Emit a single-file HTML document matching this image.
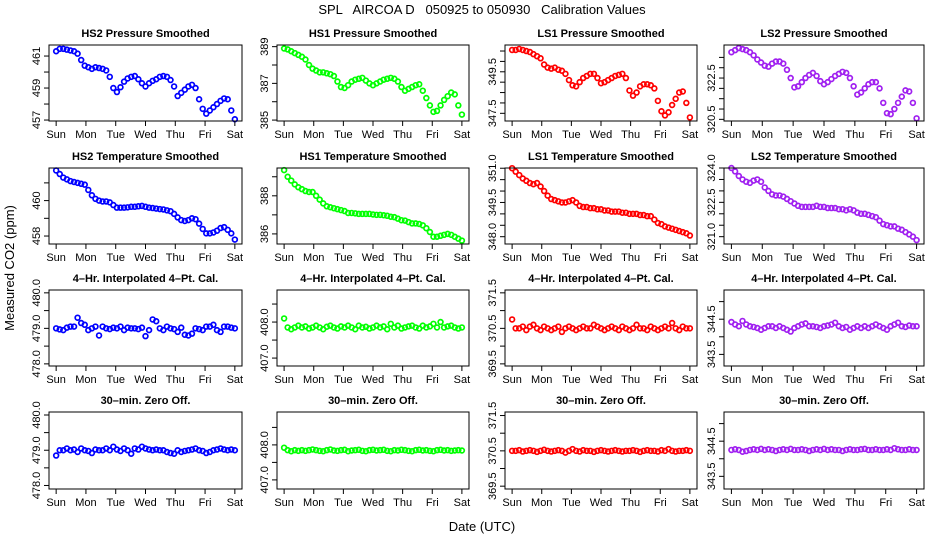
<!DOCTYPE html>
<html><head><meta charset="utf-8"><style>
html,body{margin:0;padding:0;background:#fff;}
svg{display:block;font-family:"Liberation Sans",Arial,sans-serif;}
</style></head><body>
<svg id="chart" width="936" height="540" viewBox="0 0 936 540" xmlns="http://www.w3.org/2000/svg">
<rect x="0" y="0" width="936" height="540" fill="#fff"/>
<text x="482" y="14" font-size="13" text-anchor="middle" xml:space="preserve">SPL   AIRCOA D   050925 to 050930   Calibration Values</text>
<text x="0" y="0" font-size="13" text-anchor="middle" transform="translate(14,268) rotate(-90)">Measured CO2 (ppm)</text>
<text x="482" y="531" font-size="13" text-anchor="middle">Date (UTC)</text>
<g id="panels"></g>
</svg>
<script>
// ---- data (time in days from Sunday 00:00, step 0.12) ----
const days = ["Sun","Mon","Tue","Wed","Thu","Fri","Sat"];
const hs2Pressure = [461.3,461.45,461.45,461.4,461.35,461.3,461.15,460.75,460.4,460.3,460.2,460.3,460.25,460.2,460.1,459.7,459.0,458.75,459.05,459.4,459.6,459.7,459.75,459.55,459.3,459.1,459.3,459.45,459.55,459.7,459.75,459.7,459.5,459.1,458.5,458.7,458.9,459.1,459.2,459.0,458.3,457.7,457.4,457.6,457.8,458.0,458.2,458.35,458.3,457.6,457.05];
const hs1Pressure = [388.9,388.85,388.75,388.65,388.55,388.45,388.3,388.0,387.8,387.7,387.6,387.6,387.55,387.5,387.4,387.1,386.8,386.75,386.9,387.1,387.2,387.25,387.3,387.15,387.0,386.9,387.0,387.1,387.2,387.25,387.3,387.25,387.1,386.8,386.6,386.7,386.8,386.9,386.95,386.6,386.2,385.8,385.45,385.5,385.8,386.1,386.3,386.5,386.4,385.8,385.3];
const ls1Pressure = [350.55,350.55,350.6,350.55,350.5,350.45,350.35,350.25,350.15,349.85,349.7,349.65,349.7,349.6,349.55,349.4,349.1,348.85,348.8,349.0,349.2,349.3,349.4,349.4,349.2,348.95,349.0,349.1,349.2,349.3,349.35,349.4,349.2,348.6,348.35,348.5,348.8,348.9,348.9,348.85,348.7,348.1,347.6,347.4,347.55,347.9,348.2,348.5,348.55,348.0,347.3];
const ls2Pressure = [323.75,323.85,323.95,323.9,323.85,323.75,323.6,323.4,323.25,323.1,323.05,323.2,323.3,323.3,323.2,322.9,322.5,322.05,322.1,322.3,322.5,322.65,322.75,322.6,322.35,322.2,322.3,322.45,322.6,322.7,322.8,322.75,322.5,322.1,321.7,321.8,322.0,322.2,322.3,322.3,322.0,321.3,320.8,320.75,321.0,321.3,321.6,321.9,321.85,321.3,320.55];
const hs2Temp = [461.7,461.5,461.3,461.2,461.1,461.05,461.0,460.95,460.9,460.6,460.3,460.1,460.0,459.95,459.95,459.9,459.75,459.6,459.6,459.6,459.62,459.65,459.65,459.68,459.7,459.65,459.6,459.58,459.55,459.52,459.5,459.45,459.4,459.25,459.05,458.9,458.85,458.9,459.0,458.95,458.7,458.4,458.15,458.15,458.2,458.3,458.45,458.5,458.35,458.15,457.8];
const hs1Temp = [389.35,389.0,388.8,388.6,388.45,388.35,388.25,388.2,388.2,388.0,387.8,387.6,387.45,387.4,387.35,387.3,387.25,387.2,387.1,387.1,387.08,387.05,387.05,387.05,387.05,387.02,387.0,387.0,386.98,386.95,386.9,386.88,386.8,386.72,386.7,386.62,386.55,386.55,386.52,386.45,386.3,386.1,385.85,385.85,385.9,385.95,386.0,385.95,385.85,385.75,385.65];
const ls1Temp = [351.0,350.85,350.7,350.55,350.45,350.35,350.3,350.35,350.2,350.0,349.8,349.65,349.6,349.55,349.5,349.5,349.55,349.6,349.5,349.35,349.3,349.3,349.25,349.25,349.2,349.2,349.15,349.15,349.1,349.1,349.1,349.05,349.05,349.0,349.0,349.0,348.95,348.95,348.9,348.9,348.75,348.6,348.55,348.45,348.4,348.35,348.3,348.25,348.2,348.15,348.05];
const ls2Temp = [324.0,323.85,323.65,323.5,323.4,323.35,323.45,323.5,323.4,323.15,323.0,322.85,322.8,322.8,322.75,322.65,322.55,322.45,322.35,322.3,322.3,322.3,322.3,322.35,322.3,322.3,322.25,322.25,322.25,322.2,322.2,322.15,322.2,322.15,322.05,322.0,322.0,321.95,321.9,321.85,321.7,321.55,321.5,321.45,321.45,321.35,321.3,321.2,321.1,321.0,320.85];
const hs2Interp = [479.0,478.97,478.95,479.02,479.05,479.05,479.3,479.15,479.1,478.95,479.0,479.05,478.8,479.05,479.0,478.98,479.02,479.0,479.05,478.95,479.02,479.0,479.0,478.98,479.02,478.78,478.95,479.25,479.2,479.0,478.95,479.05,479.0,478.98,478.9,479.02,478.82,478.8,478.85,479.0,478.98,478.95,479.05,479.05,479.1,478.95,478.9,479.05,479.05,479.02,479.0];
const hs1Interp = [408.1,407.85,407.8,407.85,407.9,407.85,407.88,407.82,407.85,407.9,407.85,407.8,407.87,407.9,407.85,407.82,407.88,407.85,407.9,407.85,407.8,407.9,407.85,407.87,407.82,407.85,407.9,407.85,407.88,407.8,407.95,407.85,407.9,407.82,407.85,407.88,407.9,407.85,407.82,407.9,407.85,407.88,407.95,407.85,408.0,407.85,407.88,407.9,407.85,407.82,407.85];
const ls1Interp = [370.75,370.5,370.5,370.55,370.45,370.55,370.6,370.5,370.45,370.55,370.5,370.45,370.5,370.55,370.4,370.5,370.55,370.5,370.45,370.5,370.55,370.5,370.5,370.6,370.55,370.5,370.45,370.5,370.55,370.5,370.45,370.55,370.5,370.45,370.5,370.6,370.5,370.5,370.45,370.55,370.5,370.45,370.5,370.55,370.5,370.65,370.5,370.45,370.55,370.5,370.5];
const ls2Interp = [344.42,344.35,344.3,344.45,344.35,344.3,344.28,344.25,344.2,344.25,344.3,344.3,344.25,344.3,344.25,344.2,344.15,344.25,344.3,344.35,344.38,344.3,344.3,344.28,344.25,344.3,344.32,344.35,344.4,344.3,344.25,344.28,344.2,344.25,344.3,344.25,344.3,344.25,344.3,344.35,344.3,344.25,344.2,344.3,344.35,344.4,344.3,344.28,344.32,344.3,344.3];
const hs2Zero = [478.85,479.0,479.0,479.05,479.0,479.02,478.95,479.05,479.0,478.98,478.92,479.02,479.0,479.0,479.05,479.0,479.1,479.02,478.98,479.05,479.0,478.9,479.05,479.02,479.1,479.05,479.02,479.0,479.02,479.0,479.0,478.95,478.92,478.9,479.0,478.95,478.98,479.0,479.02,479.05,479.0,478.98,478.92,478.95,479.0,479.02,479.05,479.02,479.0,479.02,479.0];
const hs1Zero = [407.92,407.85,407.82,407.85,407.83,407.85,407.83,407.85,407.87,407.85,407.83,407.82,407.85,407.87,407.84,407.83,407.85,407.86,407.82,407.84,407.85,407.86,407.83,407.82,407.85,407.86,407.84,407.85,407.86,407.83,407.82,407.85,407.84,407.86,407.85,407.83,407.82,407.85,407.86,407.84,407.85,407.83,407.82,407.85,407.86,407.84,407.85,407.83,407.84,407.85,407.84];
const ls1Zero = [370.5,370.5,370.52,370.48,370.5,370.52,370.5,370.47,370.5,370.53,370.5,370.48,370.5,370.52,370.5,370.45,370.5,370.55,370.5,370.48,370.52,370.5,370.5,370.47,370.5,370.52,370.5,370.48,370.5,370.52,370.5,370.48,370.5,370.5,370.52,370.5,370.47,370.5,370.52,370.5,370.5,370.48,370.52,370.5,370.55,370.5,370.48,370.5,370.5,370.52,370.5];
const ls2Zero = [344.25,344.27,344.25,344.2,344.22,344.25,344.27,344.25,344.28,344.25,344.27,344.25,344.22,344.25,344.27,344.25,344.28,344.25,344.25,344.27,344.25,344.22,344.25,344.27,344.25,344.28,344.25,344.27,344.25,344.25,344.22,344.25,344.27,344.25,344.25,344.27,344.28,344.25,344.25,344.27,344.25,344.25,344.27,344.25,344.3,344.27,344.25,344.25,344.27,344.25,344.25];
const timeStep = 0.12;

// ---- layout ----
const colL = [49,277,505,724], colR = [242,469,697,924];
const rowT = [45,168,290,412], rowB = [121,244,366,489];
const colors = ["#0000ff","#00ff00","#ff0000","#a020f0"];
const panels = [
 {r:0,c:0,title:"HS2 Pressure Smoothed",data:hs2Pressure,lo:456.94,hi:461.69,ticks:[457,458,459,460,461],labels:["457","","459","","461"]},
 {r:0,c:1,title:"HS1 Pressure Smoothed",data:hs1Pressure,lo:384.95,hi:389.09,ticks:[385,386,387,388,389],labels:["385","","387","","389"]},
 {r:0,c:2,title:"LS1 Pressure Smoothed",data:ls1Pressure,lo:347.13,hi:350.79,ticks:[347.5,348,348.5,349,349.5,350,350.5],labels:["347.5","","","","349.5","",""]},
 {r:0,c:3,title:"LS2 Pressure Smoothed",data:ls2Pressure,lo:320.42,hi:324.1,ticks:[320.5,321,321.5,322,322.5,323,323.5],labels:["320.5","","","","322.5","",""]},
 {r:1,c:0,title:"HS2 Temperature Smoothed",data:hs2Temp,lo:457.55,hi:461.84,ticks:[458,459,460,461],labels:["458","","460",""]},
 {r:1,c:1,title:"HS1 Temperature Smoothed",data:hs1Temp,lo:385.47,hi:389.46,ticks:[386,387,388,389],labels:["386","","388",""]},
 {r:1,c:2,title:"LS1 Temperature Smoothed",data:ls1Temp,lo:347.68,hi:351.01,ticks:[348,348.5,349,349.5,350,350.5,351],labels:["348.0","","","349.5","","","351.0"]},
 {r:1,c:3,title:"LS2 Temperature Smoothed",data:ls2Temp,lo:320.68,hi:324.0,ticks:[321,321.5,322,322.5,323,323.5,324],labels:["321.0","","","322.5","","","324.0"]},
 {r:2,c:0,title:"4\u2013Hr. Interpolated 4\u2013Pt. Cal.",data:hs2Interp,lo:477.94,hi:480.08,ticks:[478,478.5,479,479.5,480],labels:["478.0","","479.0","","480.0"]},
 {r:2,c:1,title:"4\u2013Hr. Interpolated 4\u2013Pt. Cal.",data:hs1Interp,lo:406.78,hi:408.89,ticks:[407,407.5,408,408.5],labels:["407.0","","408.0",""]},
 {r:2,c:2,title:"4\u2013Hr. Interpolated 4\u2013Pt. Cal.",data:ls1Interp,lo:369.44,hi:371.58,ticks:[369.5,370,370.5,371,371.5],labels:["369.5","","370.5","","371.5"]},
 {r:2,c:3,title:"4\u2013Hr. Interpolated 4\u2013Pt. Cal.",data:ls2Interp,lo:343.17,hi:345.33,ticks:[343.5,344,344.5,345],labels:["343.5","","344.5",""]},
 {r:3,c:0,title:"30\u2013min. Zero Off.",data:hs2Zero,lo:477.9,hi:480.085,ticks:[478,478.5,479,479.5,480],labels:["478.0","","479.0","","480.0"]},
 {r:3,c:1,title:"30\u2013min. Zero Off.",data:hs1Zero,lo:406.74,hi:408.94,ticks:[407,407.5,408,408.5],labels:["407.0","","408.0",""]},
 {r:3,c:2,title:"30\u2013min. Zero Off.",data:ls1Zero,lo:369.42,hi:371.6,ticks:[369.5,370,370.5,371,371.5],labels:["369.5","","370.5","","371.5"]},
 {r:3,c:3,title:"30\u2013min. Zero Off.",data:ls2Zero,lo:343.14,hi:345.33,ticks:[343.5,344,344.5,345],labels:["343.5","","344.5",""]}
];

const NS = "http://www.w3.org/2000/svg";
const root = document.getElementById("panels");
function mk(tag, attrs, parent){ const e=document.createElementNS(NS,tag); for(const k in attrs) e.setAttribute(k,attrs[k]); parent.appendChild(e); return e; }

panels.forEach((p,pi)=>{
  const L=colL[p.c], R=colR[p.c], T=rowT[p.r], B=rowB[p.r], W=R-L, H=B-T;
  const xs = t => L + (t+0.24)/6.48*W;
  const ys = v => B - (v-p.lo)/(p.hi-p.lo)*H;
  const col = colors[p.c];
  const g = mk("g",{},root);
  
  
  const tt = mk("text",{x:(L+R)/2,y:T-8,"font-size":"11","font-weight":"bold","text-anchor":"middle"},g);
  tt.textContent = p.title;
  
  
  const pts = mk("g",{fill:"none",stroke:col,"stroke-width":"1.7"},g);
  
  
  p.data.forEach((v,i)=>{
    const c = mk("circle",{cx:xs(i*timeStep).toFixed(2),cy:ys(v).toFixed(2),r:"2.4"},pts);
    
    
  });
  const fr = mk("rect",{x:L,y:T,width:W,height:H,fill:"none",stroke:"#000","stroke-width":"1"},g);
  
  
  const xa = mk("g",{},g);
  
  
  days.forEach((d,i)=>{
    const x = xs(i);
    mk("line",{x1:x,x2:x,y1:B,y2:B+5,stroke:"#000","stroke-width":"1"},xa);
    const lt = mk("text",{x:x,y:B+17,"font-size":"11","text-anchor":"middle"},xa);
    lt.textContent = d;
    
    
  });
  const ya = mk("g",{},g);
  
  
  p.ticks.forEach((v,i)=>{
    const y = ys(v);
    mk("line",{x1:L-5,x2:L,y1:y,y2:y,stroke:"#000","stroke-width":"1"},ya);
    if(p.labels[i]){
      const lt = mk("text",{x:0,y:0,"font-size":"11","text-anchor":"middle",transform:`translate(${L-9},${y.toFixed(1)}) rotate(-90)`},ya);
      lt.textContent = p.labels[i];
      
      
    }
  });
});
</script>
</body></html>
